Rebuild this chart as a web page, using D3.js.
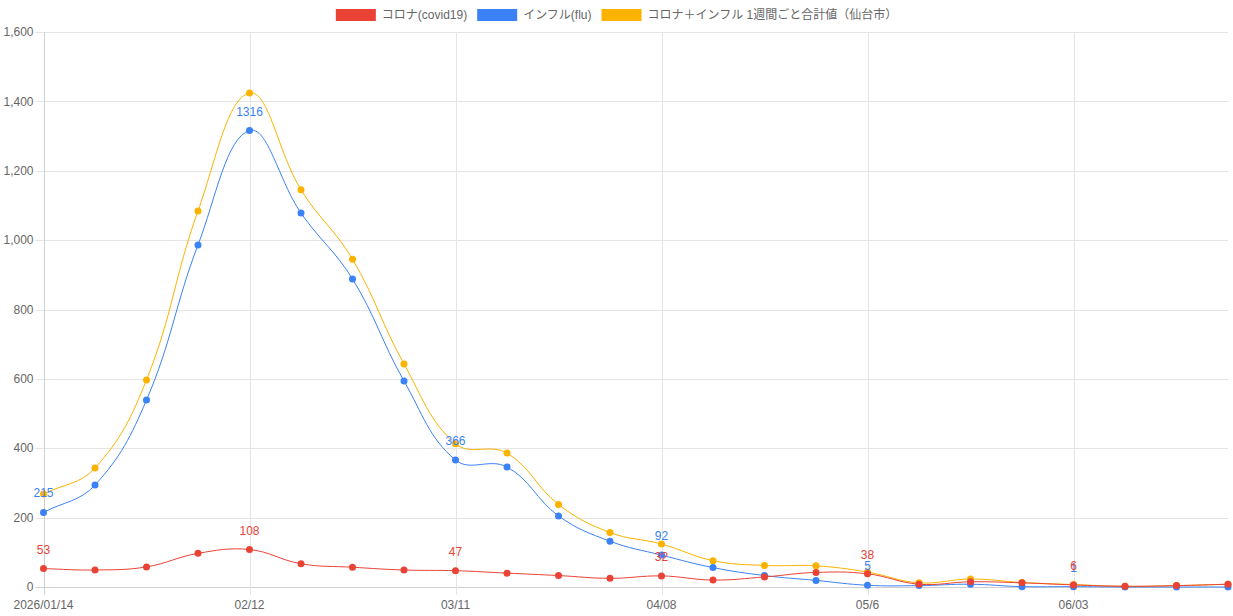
<!doctype html>
<html lang="ja">
<head>
  <meta charset="utf-8">
  <title>コロナ・インフル 1週間ごと</title>
  <script src="https://d3js.org/d3.v7.min.js"></script>
  <style>
    body { margin: 0; background: #fff; }
    svg text { font-family: "Liberation Sans", Arial, "Noto Sans CJK JP", sans-serif; }
  </style>
</head>
<body>
  <div id="chart"></div>
  <script type="text/javascript">
	// weekly data points (index 0 = 2026/01/14)
	var weeks = d3.range(24);
	var tickIdx = [0, 4, 8, 12, 16, 20];
	var tickLabels = ["2026/01/14", "02/12", "03/11", "04/08", "05/6", "06/03"];

	var covid = [53, 49, 58, 97, 108, 67, 57, 49, 47, 40, 33, 25, 32, 20, 29, 42, 38, 8, 15, 12, 6, 2, 4, 8];
	var flu   = [215, 294, 539, 986, 1316, 1078, 888, 594, 366, 346, 205, 132, 92, 56, 33, 19, 5, 4, 8, 1, 1, 0, 0, 0];
	var total = [268, 343, 597, 1084, 1424, 1145, 945, 643, 413, 386, 238, 157, 124, 76, 62, 61, 43, 12, 23, 13, 7, 2, 4, 8];

	var seriesNames = ["コロナ(covid19)", "インフル(flu)", "コロナ＋インフル 1週間ごと合計値（仙台市）"];
	var colors = ["#ea4335", "#3b82f6", "#fbb300"];

	var width = 1233, height = 616;
	var margin = {top: 32, right: 5, bottom: 29, left: 43.5};

	var svg = d3.select('#chart')
				.append('svg')
				.attr('width', width)
				.attr('height', height);

	var x = d3.scaleLinear()
				.domain([0, 23])
				.range([margin.left, width - margin.right]);

	var y = d3.scaleLinear()
				.domain([0, 1600])
				.range([height - margin.bottom, margin.top]);

	//horizontal grid + y ticks
	var yTicks = d3.range(0, 1601, 200);
	svg.append('g').selectAll('line')
		.data(yTicks)
		.enter()
		.append('line')
		.attr('x1', margin.left - 8)
		.attr('x2', width - margin.right)
		.attr('y1', function(d) {return Math.round(y(d)) + 0.5;})
		.attr('y2', function(d) {return Math.round(y(d)) + 0.5;})
		.attr('stroke', function(d) {return d === 0 ? '#cfcfcf' : '#e5e5e5';})
		.attr('stroke-width', 1);

	svg.append('g').selectAll('text')
		.data(yTicks)
		.enter()
		.append('text')
		.attr('x', margin.left - 10)
		.attr('y', function(d) {return y(d);})
		.attr('dy', '0.35em')
		.attr('text-anchor', 'end')
		.style('font-size', '12px')
		.style('fill', '#666')
		.text(function(d) {return d3.format(',')(d);});

	//vertical grid only at labelled weeks
	svg.append('g').selectAll('line')
		.data(tickIdx)
		.enter()
		.append('line')
		.attr('x1', function(d) {return Math.round(x(d)) + 0.5;})
		.attr('x2', function(d) {return Math.round(x(d)) + 0.5;})
		.attr('y1', margin.top)
		.attr('y2', height - margin.bottom + 8)
		.attr('stroke', function(d) {return d === 0 ? '#cfcfcf' : '#e5e5e5';})
		.attr('stroke-width', 1);

	svg.append('g').selectAll('text')
		.data(tickIdx)
		.enter()
		.append('text')
		.attr('x', function(d) {return x(d);})
		.attr('y', height - margin.bottom + 22)
		.attr('text-anchor', 'middle')
		.style('font-size', '12px')
		.style('fill', '#666')
		.text(function(d, i) {return tickLabels[i];});

	//lines, total drawn first so covid/flu sit on top
	var series = [
		{name: seriesNames[2], values: total, color: colors[2], labels: false},
		{name: seriesNames[1], values: flu, color: colors[1], labels: true},
		{name: seriesNames[0], values: covid, color: colors[0], labels: true}
	];

	//spline with tension 0.4 (distance weighted control points), like the original chart
	function splinePath(values) {
		var pts = values.map(function(d, i) {return [x(weeks[i]), y(d)];});
		var t = 0.4, top = margin.top, bottom = height - margin.bottom;
		var ctrl = pts.map(function(p, i) {
			var prev = pts[i - 1] || p, next = pts[i + 1] || p;
			var d01 = Math.hypot(p[0] - prev[0], p[1] - prev[1]);
			var d12 = Math.hypot(next[0] - p[0], next[1] - p[1]);
			var s01 = d01 / (d01 + d12) || 0, s12 = d12 / (d01 + d12) || 0;
			var fa = t * s01, fb = t * s12;
			var clamp = function(v) {return Math.max(top, Math.min(bottom, v));};
			return {
				prev: [p[0] - fa * (next[0] - prev[0]), clamp(p[1] - fa * (next[1] - prev[1]))],
				next: [p[0] + fb * (next[0] - prev[0]), clamp(p[1] + fb * (next[1] - prev[1]))]
			};
		});
		var path = d3.path();
		path.moveTo(pts[0][0], pts[0][1]);
		for (var i = 1; i < pts.length; i++) {
			path.bezierCurveTo(ctrl[i - 1].next[0], ctrl[i - 1].next[1], ctrl[i].prev[0], ctrl[i].prev[1], pts[i][0], pts[i][1]);
		}
		return path.toString();
	}

	series.forEach(function(s) {
		var g = svg.append('g');
		g.append('path')
			.attr('d', splinePath(s.values))
			.attr('fill', 'none')
			.attr('stroke', s.color)
			.attr('stroke-width', 1);
		g.selectAll('circle')
			.data(s.values)
			.enter()
			.append('circle')
			.attr('cx', function(d, i) {return x(weeks[i]);})
			.attr('cy', function(d) {return y(d);})
			.attr('r', 3.5)
			.attr('fill', s.color);
	});

	//value labels every 4 weeks
	series.filter(function(s) {return s.labels;}).forEach(function(s) {
		svg.append('g').selectAll('text')
			.data(tickIdx)
			.enter()
			.append('text')
			.attr('x', function(d) {return x(d);})
			.attr('y', function(d) {return y(s.values[d]) - 15;})
			.attr('text-anchor', 'middle')
			.style('font-size', '12px')
			.style('fill', s.color)
			.text(function(d) {return s.values[d];});
	});

	//legend, centred at top
	var legend = svg.append('g');
	var items = [0, 1, 2];
	var lx = 0;
	items.forEach(function(i) {
		var item = legend.append('g').attr('transform', 'translate(' + lx + ',0)');
		item.append('rect')
			.attr('x', 0).attr('y', 9)
			.attr('width', 40).attr('height', 12)
			.attr('fill', colors[i]);
		var t = item.append('text')
			.attr('x', 46).attr('y', 15)
			.attr('dy', '0.35em')
			.style('font-size', '12px')
			.style('fill', '#666')
			.text(seriesNames[i]);
		lx += 46 + t.node().getComputedTextLength() + 10;
	});
	legend.attr('transform', 'translate(' + ((width - (lx - 10)) / 2) + ',0)');
  </script>
</body>
</html>
